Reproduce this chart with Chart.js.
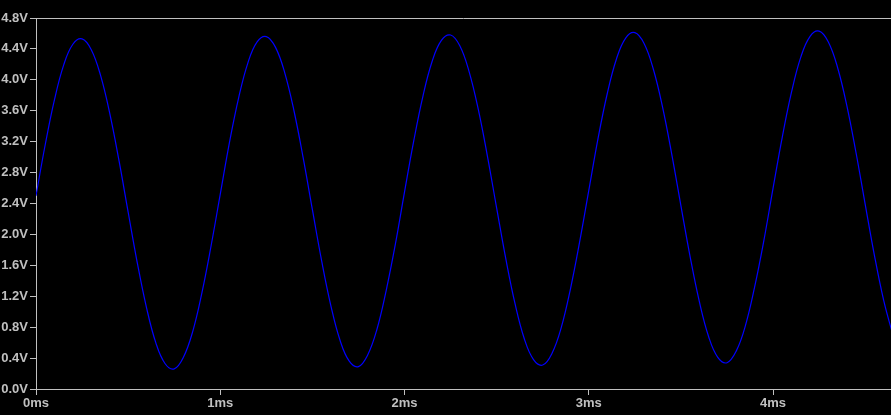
<!DOCTYPE html>
<html>
<head>
<meta charset="utf-8">
<style>
  html, body { margin: 0; padding: 0; background: #000; }
  #wrap { width: 891px; height: 415px; }
</style>
<script src="https://cdn.jsdelivr.net/npm/chart.js@4.4.1/dist/chart.umd.min.js"></script>
</head>
<body>
<div id="wrap"><canvas id="chart-canvas"></canvas></div>
<script>
// Sample times in ms (every 0.05 ms)
const timeMs = [
  0.00, 0.05, 0.10, 0.15, 0.20, 0.25, 0.30, 0.35, 0.40, 0.45, 0.50, 0.55, 0.60, 0.65, 0.70, 0.75, 0.80, 0.85, 0.90, 0.95,
  1.00, 1.05, 1.10, 1.15, 1.20, 1.25, 1.30, 1.35, 1.40, 1.45, 1.50, 1.55, 1.60, 1.65, 1.70, 1.75, 1.80, 1.85, 1.90, 1.95,
  2.00, 2.05, 2.10, 2.15, 2.20, 2.25, 2.30, 2.35, 2.40, 2.45, 2.50, 2.55, 2.60, 2.65, 2.70, 2.75, 2.80, 2.85, 2.90, 2.95,
  3.00, 3.05, 3.10, 3.15, 3.20, 3.25, 3.30, 3.35, 3.40, 3.45, 3.50, 3.55, 3.60, 3.65, 3.70, 3.75, 3.80, 3.85, 3.90, 3.95,
  4.00, 4.05, 4.10, 4.15, 4.20, 4.25, 4.30, 4.35, 4.40, 4.45, 4.50, 4.55, 4.60, 4.65
];

// Voltage (V)
const voltage = [
  2.50, 3.16, 3.74, 4.19, 4.46, 4.53, 4.39, 4.06, 3.57, 2.96, 2.29, 1.63, 1.05, 0.60, 0.33, 0.26, 0.41, 0.74, 1.24, 1.85,
  2.52, 3.19, 3.77, 4.22, 4.49, 4.56, 4.42, 4.09, 3.60, 2.99, 2.32, 1.66, 1.08, 0.63, 0.36, 0.29, 0.44, 0.77, 1.27, 1.87,
  2.55, 3.21, 3.79, 4.24, 4.51, 4.58, 4.44, 4.11, 3.62, 3.01, 2.34, 1.68, 1.10, 0.65, 0.38, 0.31, 0.46, 0.79, 1.29, 1.90,
  2.57, 3.24, 3.82, 4.27, 4.54, 4.61, 4.47, 4.14, 3.65, 3.04, 2.37, 1.71, 1.13, 0.68, 0.41, 0.34, 0.49, 0.82, 1.32, 1.92,
  2.60, 3.26, 3.84, 4.29, 4.56, 4.63, 4.49, 4.16, 3.67, 3.06, 2.39, 1.73, 1.15, 0.70
];

// Axis ranges / tick steps
const xRange = [0, 4.64];
const yRange = [0, 4.8];
const xStep = 1;
const yStep = 0.4;

const axisGrey = '#c0c0c0';
const labelFont = { family: 'Liberation Sans', size: 13, weight: 'bold' };

// Top frame line of the plot area
const topFrame = {
  id: 'topFrame',
  afterDraw(chart) {
    const { ctx, chartArea } = chart;
    ctx.save();
    ctx.strokeStyle = axisGrey;
    ctx.lineWidth = 1;
    ctx.beginPath();
    ctx.moveTo(chartArea.left, chartArea.top + 0.5);
    ctx.lineTo(chartArea.right, chartArea.top + 0.5);
    ctx.stroke();
    ctx.restore();
  }
};

const ctx = document.getElementById('chart-canvas').getContext('2d');
new Chart(ctx, {
  type: 'line',
  data: {
    datasets: [{
      data: timeMs.map((t, i) => ({ x: t, y: voltage[i] })),
      borderColor: '#0000ff',
      borderWidth: 1.2,
      pointRadius: 0,
      tension: 0.4,
      fill: false
    }]
  },
  options: {
    responsive: true,
    maintainAspectRatio: false,
    animation: false,
    layout: { padding: { top: 18, right: 0, left: 0, bottom: 0 } },
    plugins: {
      legend: { display: false },
      tooltip: { enabled: false }
    },
    scales: {
      x: {
        type: 'linear',
        min: xRange[0],
        max: xRange[1],
        // only whole milliseconds get a tick (drop the 4.64 end tick)
        afterBuildTicks: function(axis) {
          axis.ticks = axis.ticks.filter(t => Number.isInteger(t.value));
        },
        afterFit: function(axis) { axis.height = 26; },
        border: { color: axisGrey, width: 1 },
        grid: { drawOnChartArea: false, drawTicks: true, tickLength: 6, color: axisGrey },
        ticks: {
          stepSize: xStep,
          color: axisGrey,
          font: labelFont,
          padding: 1,
          maxRotation: 0,
          callback: function(value) { return value + 'ms'; }
        }
      },
      y: {
        min: yRange[0],
        max: yRange[1],
        afterFit: function(axis) { axis.width = 36; },
        border: { color: axisGrey, width: 1 },
        grid: { drawOnChartArea: false, drawTicks: true, tickLength: 6, color: axisGrey },
        ticks: {
          stepSize: yStep,
          color: axisGrey,
          font: labelFont,
          padding: 2,
          callback: function(value) { return value.toFixed(1) + 'V'; }
        }
      }
    }
  },
  plugins: [topFrame]
});
</script>
</body>
</html>
